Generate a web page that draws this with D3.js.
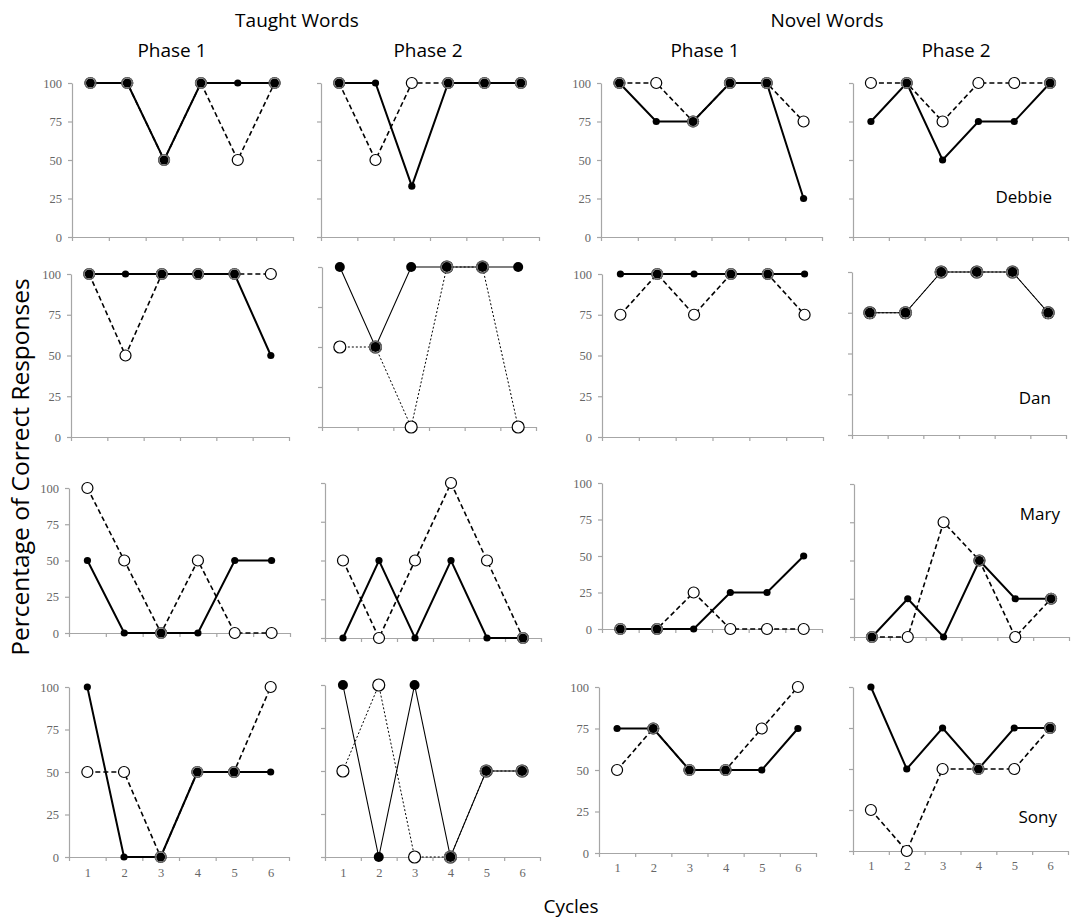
<!DOCTYPE html>
<html lang="en">
<head>
<meta charset="UTF-8">
<title>Percentage of Correct Responses by Cycle</title>
<script src="https://d3js.org/d3.v7.min.js"></script>
<style>
    body { margin: 0; background: #fff; }
    .title { font-family: "Open Sans", sans-serif; font-size: 19px; fill: #000; text-anchor: middle; }
    .name { font-family: "Open Sans", sans-serif; font-size: 17px; fill: #000; text-anchor: end; }
    .axis text { font-family: "Liberation Serif", "Times New Roman", serif; font-size: 12.5px; fill: #666; }
    .axis path, .axis line { stroke: #a6a6a6; stroke-width: 1.2; }
</style>
</head>
<body>
<svg id="chart" width="1080" height="919"></svg>
<script>
    const participants = ["Debbie", "Dan", "Mary", "Sony"];
    const groupTitles = ["Taught Words", "Novel Words"];
    const phaseTitles = ["Phase 1", "Phase 2", "Phase 1", "Phase 2"];
    const cycles = [1, 2, 3, 4, 5, 6];
    const yTicks = [0, 25, 50, 75, 100];

    // one array per panel column: Taught P1, Taught P2, Novel P1, Novel P2
    const debbieFilled = [[100, 100, 50, 100, 100, 100], [100, 100, 33, 100, 100, 100], [100, 75, 75, 100, 100, 25], [75, 100, 50, 75, 75, 100]];
    const debbieOpen   = [[100, 100, 50, 100, 50, 100], [100, 50, 100, 100, 100, 100], [100, 100, 75, 100, 100, 75], [100, 100, 75, 100, 100, 100]];
    const danFilled    = [[100, 100, 100, 100, 100, 50], [100, 50, 100, 100, 100, 100], [100, 100, 100, 100, 100, 100], [75, 75, 100, 100, 100, 75]];
    const danOpen      = [[100, 50, 100, 100, 100, 100], [50, 50, 0, 100, 100, 0], [75, 100, 75, 100, 100, 75], [75, 75, 100, 100, 100, 75]];
    const maryFilled   = [[50, 0, 0, 0, 50, 50], [0, 50, 0, 50, 0, 0], [0, 0, 0, 25, 25, 50], [0, 25, 0, 50, 25, 25]];
    const maryOpen     = [[100, 50, 0, 50, 0, 0], [50, 0, 50, 100, 50, 0], [0, 0, 25, 0, 0, 0], [0, 0, 75, 50, 0, 25]];
    const sonyFilled   = [[100, 0, 0, 50, 50, 50], [100, 0, 100, 0, 50, 50], [75, 75, 50, 50, 50, 75], [100, 50, 75, 50, 75, 75]];
    const sonyOpen     = [[50, 50, 0, 50, 50, 100], [50, 100, 0, 0, 50, 50], [50, 75, 50, 50, 75, 100], [25, 0, 50, 50, 50, 75]];

    const filledSeries = [debbieFilled, danFilled, maryFilled, sonyFilled];
    const openSeries = [debbieOpen, danOpen, maryOpen, sonyOpen];

    // panel frames (the source is a pasted collage, so each panel sits a bit differently)
    // [left, right, top(100), bottom(0)]
    const frames = [
        [[72, 293, 83, 237], [321, 539, 83, 237], [601, 822, 83, 237], [853, 1068, 83, 237]],
        [[71, 289, 274, 437], [322, 536, 267, 427], [602, 823, 274, 437], [852, 1066, 272, 435]],
        [[69, 290, 488, 633], [325, 541, 483, 638], [602, 822, 483, 629], [854, 1069, 484, 637]],
        [[69, 289, 687, 857], [325, 540, 685, 857], [599, 816, 687, 853], [853, 1068, 687, 851]]
    ];
    // panels drawn with thin lines and large markers
    const thinPanels = ["1-1", "1-3", "3-1"];
    const nameSpots = [[1052, 203], [1051, 404], [1060, 520], [1057, 823]];

    const svg = d3.select("#chart");

    // headings
    svg.append("text").attr("class", "title").attr("x", 297).attr("y", 27).text(groupTitles[0]);
    svg.append("text").attr("class", "title").attr("x", 827).attr("y", 27).text(groupTitles[1]);
    [172, 428, 705, 956].forEach((cx, i) => {
        svg.append("text").attr("class", "title").attr("x", cx).attr("y", 57).text(phaseTitles[i]);
    });
    svg.append("text").attr("class", "title").attr("x", 571).attr("y", 913).text("Cycles");
    const yTitle = svg.append("text").attr("class", "title")
        .attr("transform", "translate(29,467) rotate(-90)")
        .style("font-size", "20px")
        .text("Percentage of Correct Responses");
    // stretch the side title to the span it covers in the source
    const len = yTitle.node().getComputedTextLength();
    yTitle.style("font-size", (20 * 378 / len).toFixed(1) + "px");

    function drawPanel(row, col) {
        const [l, r, t, b] = frames[row][col];
        const thin = thinPanels.includes(row + "-" + col);
        const filled = filledSeries[row][col];
        const open = openSeries[row][col];

        const x = d3.scaleLinear().domain([0.5, 6.5]).range([l, r]);
        const y = d3.scaleLinear().domain([0, 100]).range([b, t]);
        const g = svg.append("g");

        // y axis
        const yAxis = d3.axisLeft(y).tickValues(yTicks).tickSize(4).tickSizeOuter(0).tickPadding(6);
        if (col % 2 === 1) yAxis.tickFormat("");
        g.append("g").attr("class", "axis").attr("transform", `translate(${l},0)`).call(yAxis)
            .attr("font-family", "Liberation Serif, serif");

        // x axis with ticks between categories
        const bounds = cycles.map(c => c - 0.5).concat([6.5]);
        g.append("g").attr("class", "axis").attr("transform", `translate(0,${b})`)
            .call(d3.axisBottom(x).tickValues(bounds).tickSize(4).tickSizeOuter(0).tickFormat(""));
        if (row === 3) {
            const lab = g.append("g").attr("class", "axis").attr("transform", `translate(0,${b})`)
                .call(d3.axisBottom(x).tickValues(cycles).tickSize(0).tickPadding(col < 2 ? 11 : 10).tickFormat(d3.format("d")))
                .attr("font-family", "Liberation Serif, serif");
            lab.select(".domain").remove();
        }

        const line = d3.line().x((d, i) => x(cycles[i])).y(d => y(d));

        g.append("path").datum(open)
            .attr("d", line).attr("fill", "none").attr("stroke", "#000")
            .attr("stroke-width", thin ? 1 : 1.6)
            .attr("stroke-dasharray", thin ? "2,2" : "5,3");
        g.append("path").datum(filled)
            .attr("d", line).attr("fill", "none").attr("stroke", "#000")
            .attr("stroke-width", thin ? 1.1 : 2);

        const rOpen = thin ? 6 : 5.5;
        const rFilled = thin ? 5 : 3.6;

        g.selectAll(".open").data(open).join("circle")
            .attr("class", "open")
            .attr("cx", (d, i) => x(cycles[i])).attr("cy", d => y(d))
            .attr("r", rOpen).attr("fill", "#fff").attr("stroke", "#000").attr("stroke-width", 1.2);

        g.selectAll(".filled").data(filled).join("circle")
            .attr("class", "filled")
            .attr("cx", (d, i) => x(cycles[i])).attr("cy", d => y(d))
            .attr("r", (d, i) => d === open[i] ? rOpen - 1 : rFilled)
            .attr("fill", "#000");

        // rings on points where both series meet
        g.selectAll(".both").data(filled.map((d, i) => ({ d, i })).filter(p => p.d === open[p.i])).join("circle")
            .attr("class", "both")
            .attr("cx", p => x(cycles[p.i])).attr("cy", p => y(p.d))
            .attr("r", rOpen).attr("fill", "none").attr("stroke", "#777").attr("stroke-width", 1);
    }

    participants.forEach((name, row) => {
        for (let col = 0; col < 4; col++) drawPanel(row, col);
        svg.append("text").attr("class", "name")
            .attr("x", nameSpots[row][0]).attr("y", nameSpots[row][1]).text(name);
    });
</script>
</body>
</html>
